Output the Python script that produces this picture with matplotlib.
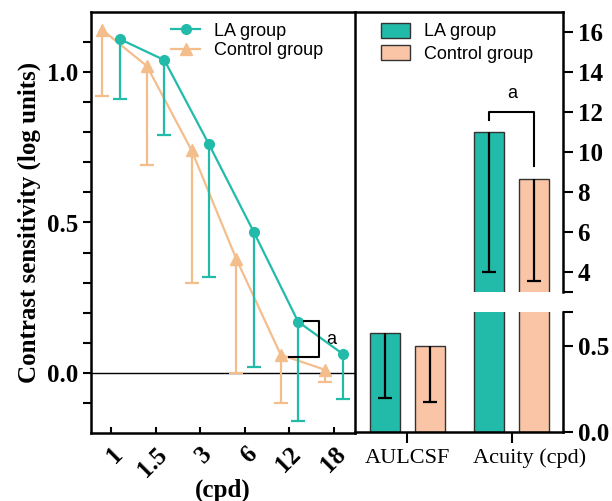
import numpy as np
from matplotlib import pyplot as plt
from matplotlib.lines import Line2D
from matplotlib.transforms import ScaledTranslation

# spatial frequency categories
freqs = ["1", "1.5", "3", "6", "12", "18"]
la_cs = [1.11, 1.04, 0.76, 0.47, 0.17, 0.063]
la_low = [0.91, 0.79, 0.32, 0.02, -0.16, -0.087]
ctrl_cs = [1.14, 1.02, 0.74, 0.38, 0.06, 0.01]
ctrl_low = [0.92, 0.69, 0.30, 0.0, -0.10, -0.03]

# bar panel
bar_cats = ["AULCSF", "Acuity (cpd)"]
la_bar = [0.58, 11.0]
la_bar_low = [0.20, 4.0]
ctrl_bar = [0.50, 8.65]
ctrl_bar_low = [0.175, 3.55]

teal = "#22BBAA"
orange = "#F4BE8C"
peach = "#F9C5A6"
serif = "Liberation Serif"
sans = "Liberation Sans"


def lower_errbar(a, xs, v, lo, **kw):
	# error bar drawn only below the value, cap at the bottom only
	e = a.errorbar(xs, v, yerr=[np.array(v) - np.array(lo), np.zeros(len(v))], capsize=5, capthick=1.6,
		elinewidth=1.6, **kw)
	e[1][1].set_visible(False)
	return e


def main():
	fig = plt.figure(figsize=(6.12, 5.01), dpi=100)
	ax = fig.add_axes([91/612, 1-433/501, 264/612, 421/501])
	au = fig.add_axes([355/612, 1-292/501, 208/612, 280/501])
	al = fig.add_axes([355/612, 1-432/501, 208/612, 120/501])

	x = np.arange(len(freqs))
	off = 0.195

	lower_errbar(ax, x - off, ctrl_cs, ctrl_low, color=orange, marker="^", ms=8, lw=1.6, zorder=3)
	lower_errbar(ax, x + off, la_cs, la_low, color=teal, marker="o", ms=7, lw=1.6, zorder=4)

	ax.axhline(0, color="black", lw=1.0, zorder=1)

	# significance bracket
	ax.plot([4.32, 4.66, 4.66, 4.0], [0.173, 0.173, 0.053, 0.053], color="black", lw=1.5, zorder=5)
	ax.text(4.93, 0.11, "a", fontsize=13, family=sans, ha="center", va="center")

	ax.set_xlim(-0.45, 5.47)
	ax.set_ylim(-0.2, 1.2)
	ax.set_xticks(x)
	ax.set_xticklabels(freqs, rotation=45, ha="right", rotation_mode="anchor",
		fontsize=18, fontweight="bold", family=serif)
	ax.set_yticks([0, 0.5, 1.0])
	ax.set_yticks(np.arange(-0.1, 1.15, 0.1), minor=True)
	ax.set_yticklabels(["0.0", "0.5", "1.0"], fontsize=18, fontweight="bold", family=serif)
	ax.tick_params(axis="y", which="both", direction="out", length=6, width=1.5)
	ax.tick_params(axis="x", direction="in", length=4, width=1.5, pad=7)
	ax.set_ylabel("Contrast sensitivity (log units)", fontsize=18, fontweight="bold", family=serif, labelpad=4)
	ax.set_xlabel("(cpd)", fontsize=18, fontweight="bold", family=serif, labelpad=-2)
	for s in ax.spines.values():
		s.set_linewidth(1.8)

	handles = [Line2D([], [], color=teal, marker="o", ms=7, lw=1.6),
		Line2D([], [], color=orange, marker="^", ms=8, lw=1.6)]
	ax.legend(handles, ["LA group", "Control group"], loc="upper left", bbox_to_anchor=(0.242, 1.013),
		frameon=False, prop={"family": sans, "size": 13}, handlelength=1.6, labelspacing=0.15,
		handletextpad=0.8)

	# bar panels (broken axis)
	bx = np.arange(len(bar_cats))
	boff = 0.215
	bw = 0.285
	for a in (au, al):
		a.patch.set_visible(False)
		a.bar(bx - boff, la_bar, bw, color=teal, edgecolor="#333333", lw=1.0, label="LA group")
		a.bar(bx + boff, ctrl_bar, bw, color=peach, edgecolor="#333333", lw=1.0, label="Control group")
		lower_errbar(a, bx - boff, la_bar, la_bar_low, fmt="none", ecolor="black")
		lower_errbar(a, bx + boff, ctrl_bar, ctrl_bar_low, fmt="none", ecolor="black")
		a.set_xlim(-0.5, 1.49)
		a.spines["left"].set_visible(False)
		a.yaxis.tick_right()
		a.tick_params(axis="y", which="both", direction="out", length=7, width=1.5, right=True, left=False)
		for s in a.spines.values():
			s.set_linewidth(1.8)

	au.set_ylim(3, 17)
	au.set_yticks([4, 6, 8, 10, 12, 14, 16])
	au.set_yticks([3], minor=True)
	au.set_yticklabels(["4", "6", "8", "10", "12", "14", "16"], fontsize=18, fontweight="bold", family=serif)
	au.spines["bottom"].set_visible(False)
	au.set_xticks([])

	bk = bx[1]
	au.plot([bk - boff, bk - boff, bk + boff, bk + boff], [11.6, 12.0, 12.0, 9.3], color="black", lw=1.5)
	au.text(bk, 12.95, "a", fontsize=13, family=sans, ha="center", va="center")
	au.legend(loc="upper left", bbox_to_anchor=(0.047, 1.02), frameon=False,
		prop={"family": sans, "size": 13}, handlelength=1.6, handleheight=0.9, labelspacing=0.25,
		handletextpad=0.8)

	al.set_ylim(0, 0.7)
	al.set_yticks([0, 0.5])
	al.set_yticks([0.7], minor=True)
	al.set_yticklabels(["0.0", "0.5"], fontsize=18, fontweight="bold", family=serif)
	al.spines["top"].set_visible(False)
	al.set_xticks(bx)
	al.set_xticklabels(bar_cats, fontsize=16, family=serif)
	al.tick_params(axis="x", direction="out", length=8, width=1.5, pad=4)
	lab = al.get_xticklabels()[1]
	lab.set_transform(lab.get_transform() + ScaledTranslation(0.18, 0, fig.dpi_scale_trans))

	fig.savefig("out.png", dpi=100)


if __name__ == "__main__":
	main()
